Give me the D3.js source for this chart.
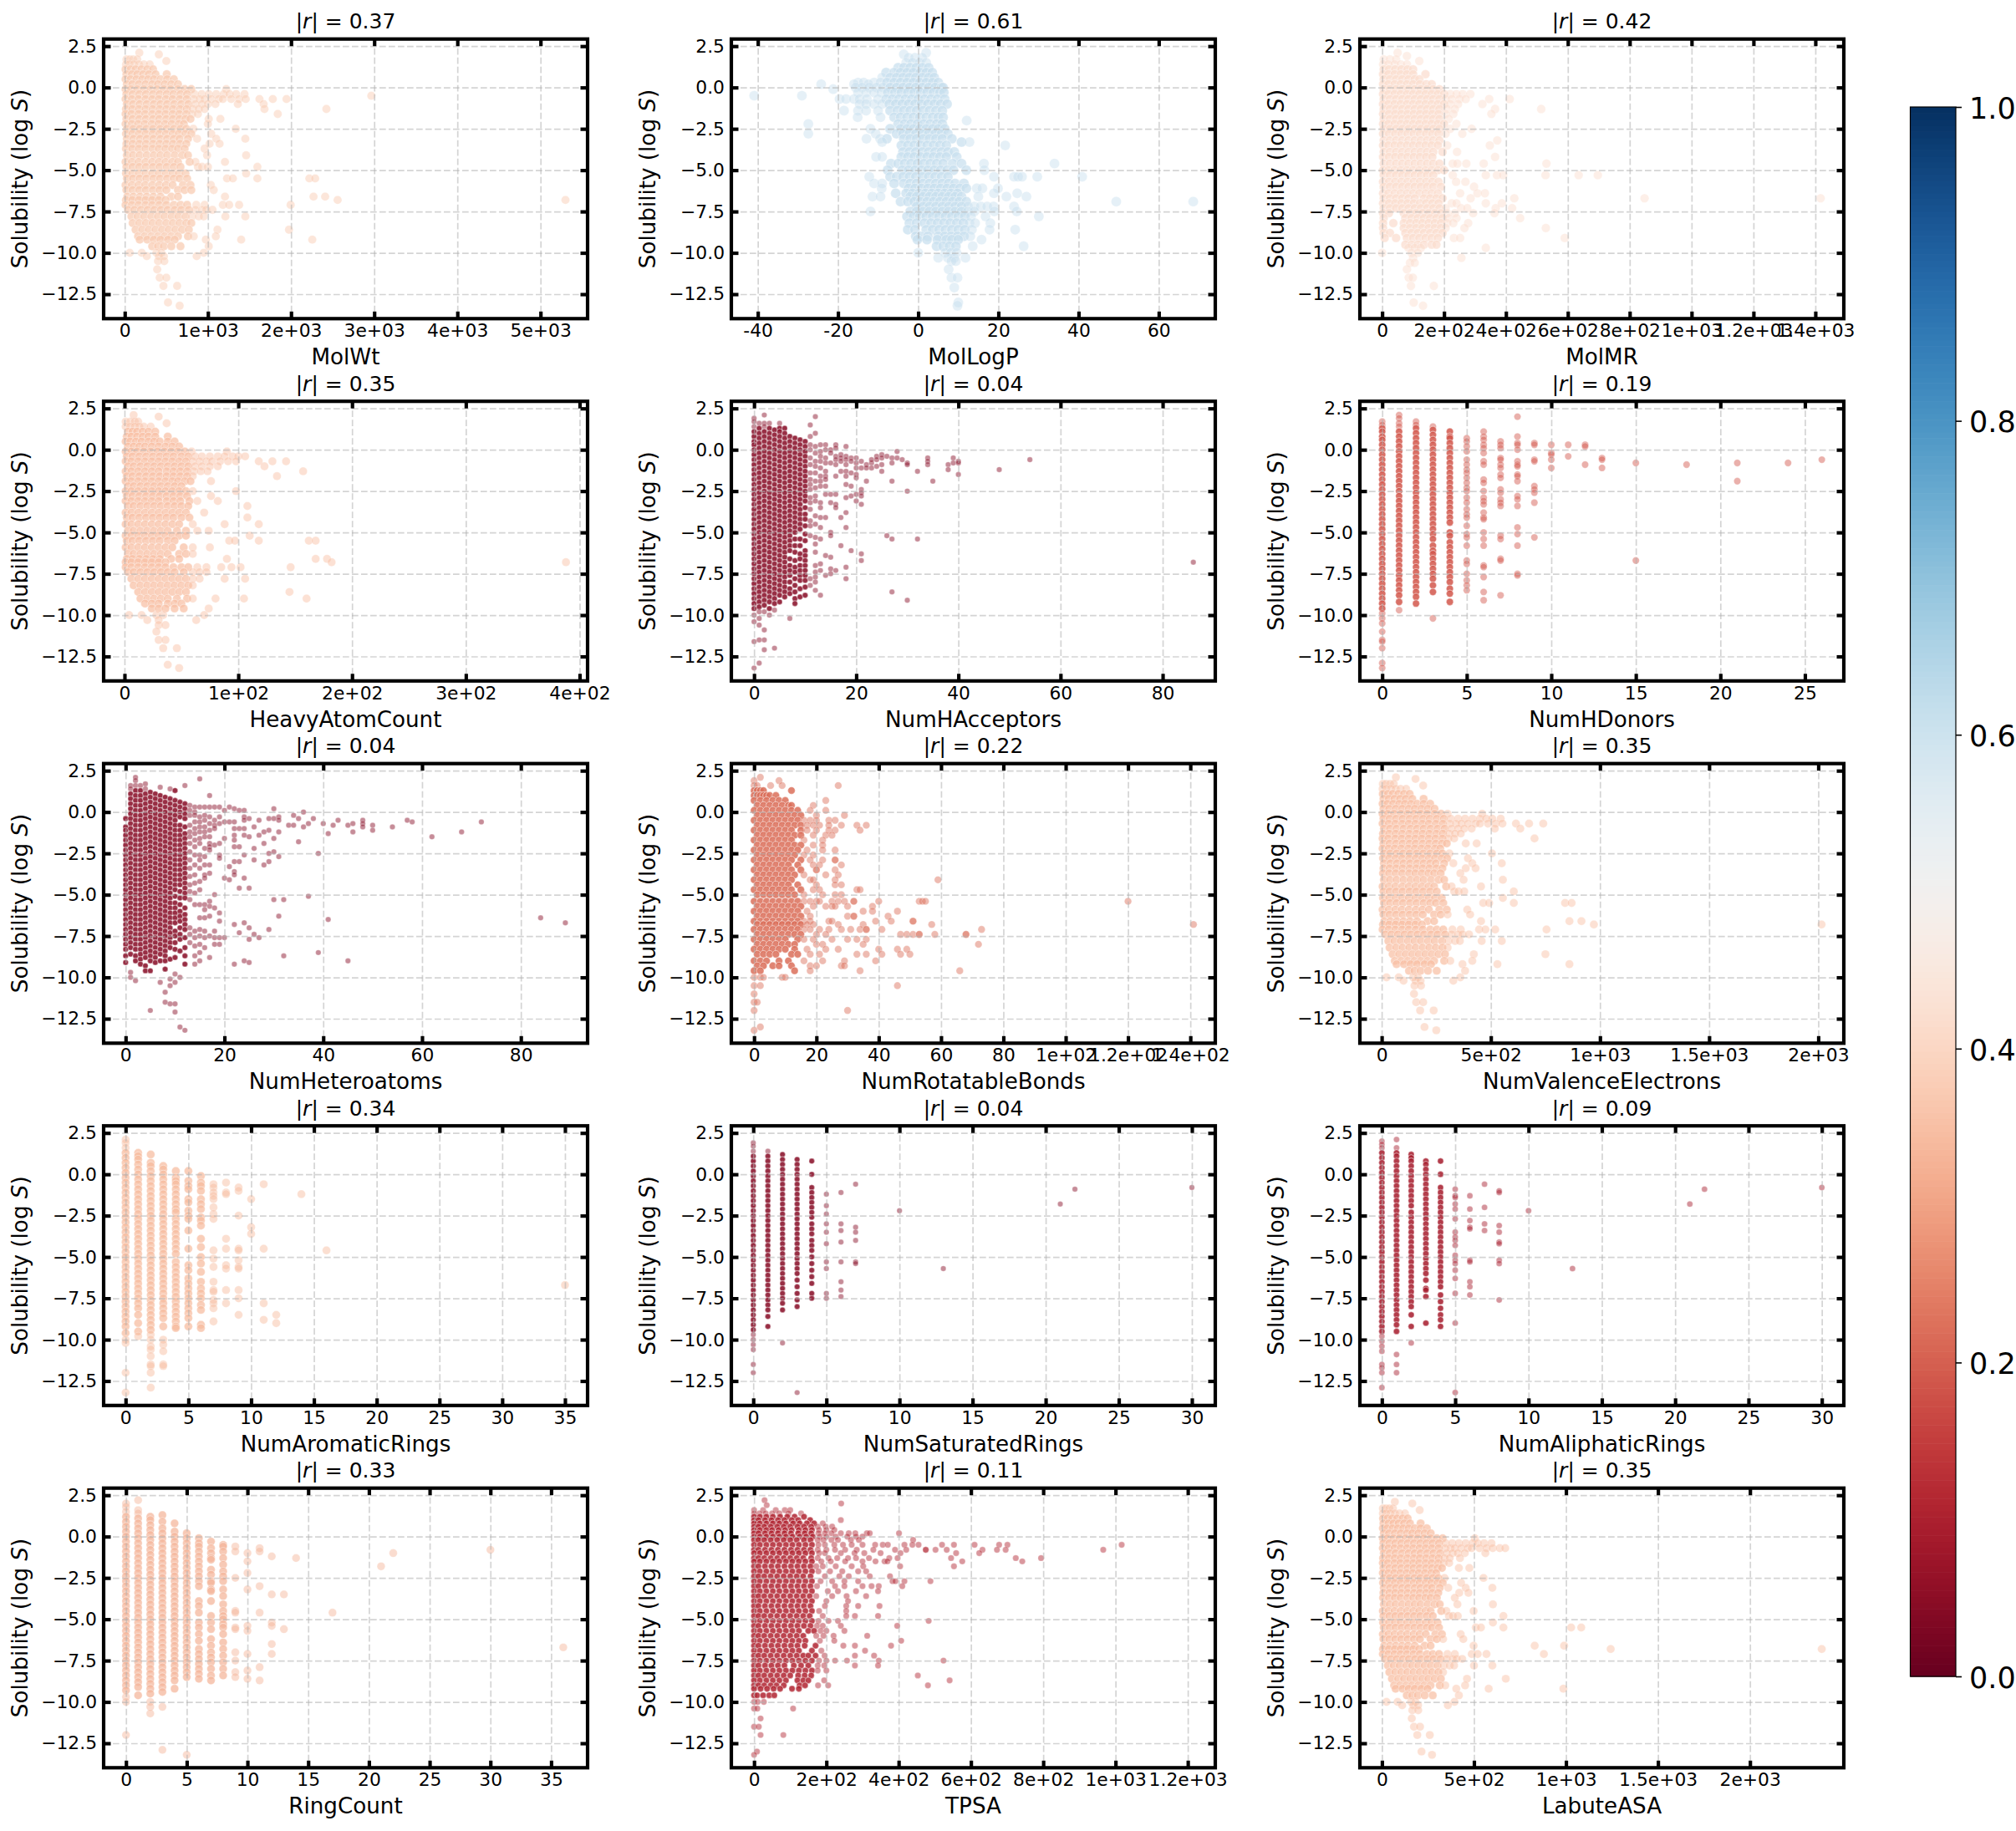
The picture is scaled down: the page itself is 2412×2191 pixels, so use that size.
<!DOCTYPE html>
<html><head><meta charset="utf-8">
<script src="https://cdn.jsdelivr.net/npm/d3@7"></script>
<style>body{margin:0;background:#fff}text{font-family:"DejaVu Sans";fill:#000}</style>
</head><body><svg id="fig" width="2412" height="2191"></svg>
<script>
// Solubility (log S, stored in tenths) against fifteen molecular descriptors.
// "Rows" entries are [logS*10, x, x, ...]; "Cols" entries are [x, logS*10, logS*10, ...].
const names=["MolWt","MolLogP","MolMR","HeavyAtomCount","NumHAcceptors","NumHDonors","NumHeteroatoms","NumRotatableBonds","NumValenceElectrons","NumAromaticRings","NumSaturatedRings","NumAliphaticRings","RingCount","TPSA","LabuteASA"];
const absR=[0.37,0.61,0.42,0.35,0.04,0.19,0.04,0.22,0.35,0.34,0.04,0.09,0.33,0.11,0.35];
const xLimits=[[-254,5566],[-46.6,74.1],[-72,1492],[-18.35,407],[-4.45,90.3],[-1.32,27.3],[-4.45,93.5],[-7.3,148],[-100,2117],[-1.75,36.8],[-1.5,31.6],[-1.5,31.5],[-1.84,38],[-62.9,1276],[-120,2510]];
const xTicks=[[0,1000,2000,3000,4000,5000],[-40,-20,0,20,40,60],[0,200,400,600,800,1000,1200,1400],[0,100,200,300,400],[0,20,40,60,80],[0,5,10,15,20,25],[0,20,40,60,80],[0,20,40,60,80,100,120,140],[0,500,1000,1500,2000],[0,5,10,15,20,25,30,35],[0,5,10,15,20,25,30],[0,5,10,15,20,25,30],[0,5,10,15,20,25,30,35],[0,200,400,600,800,1000,1200],[0,500,1000,1500,2000]];
const xTickLabels=[["0","1e+03","2e+03","3e+03","4e+03","5e+03"],["-40","-20","0","20","40","60"],["0","2e+02","4e+02","6e+02","8e+02","1e+03","1.2e+03","1.4e+03"],["0","1e+02","2e+02","3e+02","4e+02"],["0","20","40","60","80"],["0","5","10","15","20","25"],["0","20","40","60","80"],["0","20","40","60","80","1e+02","1.2e+02","1.4e+02"],["0","5e+02","1e+03","1.5e+03","2e+03"],["0","5","10","15","20","25","30","35"],["0","5","10","15","20","25","30"],["0","5","10","15","20","25","30"],["0","5","10","15","20","25","30","35"],["0","2e+02","4e+02","6e+02","8e+02","1e+03","1.2e+03"],["0","5e+02","1e+03","1.5e+03","2e+03"]];
const yTicks=[2.5,0,-2.5,-5,-7.5,-10,-12.5];
// Descriptor span of each panel's crowded core, and how many molecules pile up per listed reading there
const coreSpan=[[0,800],[-8,12],[0,200],[0,58],[0,10],[0,4],[0,12],[0,15],[0,300],[0,6],[0,4],[0,4],[0,8],[0,170],[0,330]];
const coreOverlap=[2,2,2,2,3,3,3,3,2,2,3,3,2,3,2];

const molWtRows=[[21,175],[20,410],[17,20,60,100,150],[16,500],[14,15,55,110,170,230,300],[11,10,70,130,200,270,340],[8,20,85,150,220,290,370,505],[5,10,70,140,210,280,350,430,510,590],[2,25,90,170,250,330,400,480,560,640],[-1,10,75,150,230,310,390,470,550,640,720,800,1220],[-4,20,95,175,255,340,420,505,585,670,750,840,925,1010,1100,1190,1260,1340,1440],[-5,2965],[-7,10,85,165,250,330,410,495,575,660,745,830,900,960,1040,1130,1180,1280,1375,1455,1620,1780,1945],[-10,25,100,180,265,350,430,510,595,680,765,850,930,1000,1090,1360,1670],[-13,15,90,170,250,335,420,500,580,665,745,820,890,960,1680,2425],[-16,10,80,165,245,330,410,490,575,655,740,810,880,1840],[-19,20,95,175,255,340,415,500,580,660,730,790,1010,1150],[-22,10,85,160,240,325,405,485,565,650,710,1000],[-25,25,100,180,260,340,425,505,590,670,740,825,1335],[-28,15,90,170,250,335,415,495,575,650,730,800,1040],[-31,25,105,185,265,345,430,510,590,660,760,870,1100,1450],[-34,20,95,175,255,340,420,500,580,665,740,1020,1140],[-37,15,90,170,250,335,410,490,570,640,720,960],[-41,25,100,180,265,350,430,510,600,690,760,990,1460],[-45,10,85,165,250,330,410,490,570,640,780,850,1205],[-48,20,95,175,255,340,420,505,590,670,880,930,1000,1595],[-52,15,90,170,250,330,410,495,575,650,730,1460],[-55,25,100,180,260,345,425,510,590,660,750,1230,1300,1595,2220,2290],[-59,10,85,165,245,330,415,495,575,700,790,1035],[-62,20,95,175,255,340,420,500,640,720,800,1070],[-66,30,105,185,265,345,430,560,640,1205,2270,2410],[-68,15,90,170,250,330,410,490,2560,5300],[-71,10,85,165,250,330,415,500,590,670,750,860,960,1180,1255,1375,1995],[-74,40,115,195,275,355,435,515,600,680,770,850,930,980,1055],[-78,80,155,235,320,400,480,565,645,730,810,890,950,1210,1450],[-82,95,175,255,335,415,500,580,660,740,800],[-86,130,210,290,370,450,530,610,690,770,1115,1975],[-90,160,240,320,400,480,560,640,760,830,1095],[-92,180,270,350,430,520,600,975,1400,2255],[-96,330,400,470,560,670,1010],[-100,60,205,380,440,950],[-102,265,410,470,865],[-105,400,475],[-110,390],[-115,420,500],[-120,465,630],[-130,520],[-132,660]];
const molLogPRows=[[21,2],[20,-3.6],[18,-2.4,-.8,1],[15,-3,-1.4,.4,2],[12,-5,-3.6,-2,-.5,1,2.6],[9,-8,-6,-4.4,-2.8,-1.2,.5,2,3.5],[6,-9,-7,-5.4,-3.8,-2.2,-.6,1,2.6,4],[3,-15,-13.6,-11,-9.4,-7.8,-6,-4.4,-2.8,-1.2,.4,2,3.6,5],[2,-24.2,-16,-12.4],[0,-15.6,-14,-12.2,-10.4,-8.8,-7,-5.4,-3.8,-2.2,-.6,1,2.6,4.2,5.8,6.2],[-1,-21.2],[-3,-15,-13,-11,-9.2,-7.6,-5.8,-4.2,-2.6,-1,.6,2.2,3.8,5.4,6.4],[-5,-40.9,-29],[-7,-19.6,-18,-16,-14.6,-12.8,-10,-8,-6.4,-4.8,-3.2,-1.6,0,1.6,3.2,4.8,6.6],[-10,-14.6,-13,-11,-9,-7.2,-5.6,-4,-2.4,-.8,.8,2.4,4,5.6,7.2],[-14,-18.5,-15,-13,-10,-7,-5.2,-3.6,-2,-.4,1.2,2.8,4.4,6],[-18,-15.1,-9.4,-6,-4.4,-2.8,-1.2,.4,2,3.6,5,6.2],[-20,12.1],[-22,-27.4,-5,-3.4,-1.8,-.2,1.4,3,4.6,6],[-25,-11.9,-7,-4.4,-2.8,-1.2,.4,2,3.6,5,6.6],[-28,-27.4,-10.6,-5.4,-3.8,-2.2,-.6,1,2.6,4.2,5.8,7.4],[-31,-12.9,-9.5,-7.8,-3.6,-2,-.4,1.2,2.8,4.4,6,8.4],[-33,-9,10.8,12.8],[-35,-4.2,-2.6,-1,.6,2.2,3.8,5.4,7,21.7],[-39,-3.8,-2.2,-.6,1,2.6,4.2,5.8,7.4,9],[-42,-10.5,-9,-4.2,-2.6,-1,.6,2.2,3.8,5.4,7,9.6],[-46,-6.8,-5,-3.4,-1.8,-.2,1.4,3,4.6,6.2,8.6,10.8,16.4,34],[-50,-7.6,-4,-2.4,-.8,.8,2.4,4,5.6,7.2,8.8,12,16.5],[-54,-12.2,-7,-5.4,-3.8,-2.2,-.6,1,2.6,4.2,5.8,7.4,18.9,23.9,24.9,25.9,29.7,40.9],[-58,-11,-9,-6,-3.6,-2,-.4,1.2,2.8,4.4,6,7.6,9.2,11.4],[-61,-9.1,-2.4,-.8,.8,2.4,4,5.6,7.2,8.8,10.4,12,14.6,16,19.9],[-64,-5.6,-3,-1.4,.2,1.8,3.4,5,6.6,8.2,9.8,18.9,24.7],[-66,-11.4,-9.4,-2,-.4,1.2,2.8,4.4,6,7.6,9.2,10.8,15,22,27],[-69,-4.4,-2.6,-1,.6,2.2,3.8,5.4,7,8.6,10.2,12,49.4,68.6],[-72,-.4,1.2,2.8,4.4,6,7.6,9.2,10.8,12.4,14,15.6,17.2,18.8,23.9],[-75,-11.9,-2,-.4,1.2,2.8,4.4,6,7.6,9.2,10.8,12.4,14,19,24.6],[-78,-2.8,-1.2,.4,2,3.6,5.2,6.8,8.4,10,11.6,13.2,16.8,30.1],[-82,-2.2,-.4,1.6,3.2,4.8,6.4,8,9.6,11.2,12.8,14.2,18],[-86,-2.6,-.8,2,3.6,5.2,6.8,8.4,10,11.6,13.4,17.8,24.2],[-90,-.6,.6,2.4,5,6.6,8.2,9.8,11.4,13],[-92,-.2,2.2,4.8,7,8.4,10,15.8],[-96,4.6,6.2,7.8,9.4,13.6,26.3],[-100,0,6.8,8.2,9.6],[-103,5,7.4,9,11.8],[-105,8.3,9.4],[-110,7.6],[-115,8.3,9.8],[-121,9],[-130,10],[-132,9.8]];
const molMRRows=[[21,50],[19,80],[17,5,25,45],[16,120],[14,3,20,40,60,80],[11,5,22,42,62,82,100],[8,3,20,40,60,80,100,140],[5,5,25,45,65,85,105,120],[2,3,20,40,60,80,100,122,142,160],[-1,5,25,45,65,85,105,125,145,165,185],[-4,3,20,40,60,80,100,120,140,160,180,200,220,240,260,285],[-7,5,25,45,65,85,105,125,145,165,185,205,225,250,270,346,412],[-10,3,20,40,60,80,100,120,140,160,180,200,220,245,324],[-13,5,25,45,65,85,105,125,145,165,185,210,235,365,514],[-16,3,22,42,62,82,102,122,142,162,182,205,230,353],[-19,5,25,45,65,85,105,125,145,165,185,215],[-22,3,20,40,60,80,100,120,140,160,180,200,240],[-25,5,25,45,65,85,105,125,145,165,185,220,289],[-28,3,22,42,62,82,102,122,142,162,182,205,259],[-32,5,25,45,65,85,105,125,145,165,185,372],[-35,3,20,40,60,80,100,120,140,160,180,210,348],[-39,5,25,45,65,85,105,125,145,165,195,242],[-42,3,22,42,62,82,102,122,142,162,365],[-46,5,25,45,65,85,105,125,145,165,185,228,243,272,328,531],[-50,3,20,40,60,80,100,120,140,160,180,200],[-53,5,25,45,65,85,105,125,145,165,228,335,371,391,528,635,697],[-57,3,22,42,62,82,102,122,142,162,182,239,269],[-60,5,25,45,65,85,105,125,145,165,190,297],[-64,3,20,40,60,80,100,120,140,160,180,252,308,332],[-67,5,25,45,65,85,105,135,155,175,195,286,427,848,1417],[-70,3,22,42,62,82,102,122,142,162,182,225,240,335,387],[-73,5,25,45,65,85,105,125,145,165,185,205,255,275,367,420],[-76,3,22,70,90,110,130,150,170,190,210,235,294,363],[-79,5,75,95,115,135,155,175,195,215,240,446],[-82,3,36,70,90,110,130,150,170,190,210,230,278],[-85,3,70,90,110,130,150,170,190,205,266,529],[-88,5,25,75,95,115,135,155,175,195],[-91,8,45,80,100,120,140,160,180,232,252,590],[-95,75,95,115,135,160,175],[-97,85,105,125,335],[-100,0,95,115],[-103,100,256],[-106,90,105],[-110,80],[-115,86,99],[-120,93,167],[-130,102],[-132,132]];
const heavyRows=[[21,8],[20,30],[17,1,5,9,12],[16,37],[14,1,5,9,13,17,23],[11,3,7,11,16,21,27],[8,2,6,11,16,21,27,38],[5,1,5,10,15,21,26,31,38,44],[2,3,8,13,18,24,30,36,42,48],[-1,1,6,11,17,23,29,35,41,47,53,59,90],[-4,2,7,13,19,25,31,37,43,50,56,62,68,75,82,88,95,100,106],[-7,1,6,12,18,24,30,36,42,48,54,60,66,72,77,84,91,98,118,130,142],[-10,3,8,14,20,26,32,38,44,50,56,62,68,75,82,123],[-13,1,6,12,18,24,30,37,43,49,55,61,67,73,157],[-16,2,7,13,19,25,31,37,43,49,55,60,134],[-19,1,6,12,18,24,30,36,42,47,53,58,76],[-22,3,8,14,20,26,32,38,44,50],[-25,1,6,12,18,24,30,36,42,48,54,60,98],[-28,2,7,13,19,25,31,37,43,49,55,76],[-31,1,6,12,18,24,30,37,43,49,57,64,82],[-34,3,8,14,20,26,32,38,44,50,56,108],[-38,1,6,12,18,24,30,36,42,48,54,70],[-41,2,7,13,19,25,31,37,43,50,57,108],[-45,1,6,12,18,24,30,36,42,48,60,88,118],[-49,3,8,14,20,26,32,38,46,54,64,74],[-52,1,6,12,18,24,30,36,42,48,54,110],[-55,2,7,13,19,25,31,38,44,92,97,118,162,168],[-59,1,6,12,18,24,30,36,42,52,60,75],[-63,3,8,14,20,26,32,38,48,54,60],[-66,2,7,13,19,25,31,41,48,90,168,178],[-68,1,6,12,18,24,30,36,182,388],[-71,1,6,12,18,24,30,36,43,50,56,64,72,85,94,102,146],[-74,3,8,14,20,26,32,38,44,52,60,66,72],[-78,6,12,18,24,30,36,42,48,54,60,66,88,106],[-82,8,14,20,26,32,38,44,50,56,60],[-86,12,18,24,30,36,42,48,54,145],[-90,14,20,26,32,38,46,55,60,80,105,160],[-93,18,24,30,38,44,50],[-96,24,30,36,44,52,74],[-100,4,15,28,34,70],[-103,20,30,63],[-106,30,36],[-110,28],[-115,30,36],[-120,34,46],[-130,38],[-132,48]];
const hAcceptorCols=[[0,19,17,14,11,8,5,3,0,-3,-6,-9,-12,-15,-18,-21,-24,-27,-30,-33,-36,-39,-42,-45,-48,-51,-54,-57,-60,-63,-66,-69,-72,-75,-78,-81,-84,-87,-90,-93,-96,-100,-104,-116,-132],[1,16,13,10,7,4,1,-2,-5,-8,-11,-14,-17,-20,-23,-26,-29,-32,-35,-38,-41,-44,-47,-50,-53,-56,-59,-62,-65,-68,-71,-74,-77,-80,-83,-86,-89,-92,-95,-98,-102,-106,-115,-129],[2,21,16,14,11,8,5,2,-1,-4,-7,-10,-13,-16,-19,-22,-25,-28,-31,-34,-37,-40,-43,-46,-49,-52,-55,-58,-61,-64,-67,-70,-73,-76,-79,-82,-85,-88,-91,-94,-98,-109,-115,-121],[3,16,13,10,7,4,1,-2,-5,-8,-11,-14,-17,-20,-23,-26,-29,-32,-35,-38,-41,-44,-47,-50,-53,-56,-59,-62,-65,-68,-71,-74,-77,-80,-83,-86,-89,-92,-96,-100],[4,12,9,6,3,0,-3,-6,-9,-12,-15,-18,-21,-24,-27,-30,-33,-36,-39,-42,-45,-48,-51,-54,-57,-60,-63,-66,-69,-72,-75,-78,-81,-84,-87,-90,-93,-97,-120],[5,16,13,11,8,5,2,-1,-4,-7,-10,-13,-16,-19,-22,-25,-28,-31,-34,-37,-40,-43,-46,-49,-52,-55,-58,-61,-64,-67,-70,-73,-76,-79,-82,-85,-88,-92],[6,13,10,7,4,1,-2,-5,-8,-11,-14,-17,-20,-23,-26,-29,-32,-35,-38,-41,-44,-47,-50,-53,-56,-59,-62,-65,-68,-71,-74,-77,-80,-83,-86,-89],[7,8,5,2,-1,-4,-7,-10,-13,-16,-19,-22,-25,-28,-31,-34,-37,-40,-43,-46,-49,-52,-55,-58,-61,-66,-70,-73,-76,-80,-84,-87,-102],[8,7,4,1,-2,-5,-8,-11,-14,-17,-20,-23,-26,-29,-32,-35,-38,-41,-44,-47,-50,-54,-58,-62,-67,-71,-74,-78,-82,-86,-90,-93],[9,6,3,0,-3,-6,-9,-12,-15,-18,-21,-24,-27,-30,-33,-36,-39,-42,-45,-48,-54,-58,-63,-66,-70,-73,-76,-79,-84,-89],[10,5,2,-1,-4,-7,-10,-13,-16,-19,-22,-25,-28,-31,-35,-39,-42,-46,-51,-55,-61,-64,-67,-70,-73,-76,-79,-83,-88],[11,15,8,3,0,-5,-9,-14,-18,-21,-24,-29,-32,-36,-43,-46,-52,-78,-82],[12,20,10,2,-2,-7,-10,-14,-19,-23,-28,-31,-40,-45,-53,-57,-62,-70,-74,-77,-80,-85],[13,3,-1,-4,-7,-11,-16,-19,-22,-32,-35,-41,-47,-54,-69,-73,-88],[14,3,0,-5,-8,-13,-16,-18,-22,-27,-41,-64,-76],[15,0,-2,-8,-27,-32,-50,-52,-65,-72,-75],[16,3,1,-4,-6,-9,-16,-27,-33,-35,-73],[17,-3,-5,-7,-13,-41,-58],[18,2,-4,-6,-9,-13,-16,-21,-29,-38,-47,-71,-78],[19,-5,-7,-14,-22,-28,-61],[20,-5,-8,-11,-15,-17,-27,-31],[21,-7,-11,-24,-26,-28,-33,-63,-67],[22,-9,-11,-19],[23,-8,-11,-6],[24,-4,-6,-10],[25,-3,-5,-9,-13],[26,-4,-52],[27,-5,-8,-19,-54,-86],[28,-1,-5],[29,-6],[30,-8,-9,-25,-91],[32,-13,-54],[34,-5,-7,-9],[35,-19],[38,-9,-12],[39,-5,-8],[40,-7,-8,-15],[48,-12],[54,-6],[86,-68]];
const hDonorCols=[[0,17,15,13,11,8,6,3,0,-3,-6,-9,-12,-15,-18,-21,-24,-27,-30,-33,-36,-39,-42,-45,-48,-51,-54,-57,-60,-63,-66,-69,-72,-75,-78,-81,-84,-87,-90,-93,-96,-99,-102,-105,-110,-115,-116,-120,-129,-132],[1,21,19,16,14,11,8,5,2,-1,-4,-7,-10,-13,-16,-19,-22,-25,-28,-31,-34,-37,-40,-43,-46,-49,-52,-55,-58,-61,-64,-67,-70,-73,-76,-79,-82,-85,-88,-92,-97],[2,17,15,13,10,7,4,1,-2,-5,-8,-11,-14,-17,-20,-23,-26,-29,-32,-35,-38,-41,-44,-47,-50,-53,-56,-59,-62,-65,-68,-71,-74,-77,-80,-83,-86,-89,-93],[3,14,12,9,6,3,0,-3,-6,-9,-12,-15,-18,-21,-24,-27,-30,-33,-36,-39,-42,-45,-48,-51,-54,-58,-61,-63,-66,-69,-72,-75,-78,-82,-86,-102],[4,11,8,7,4,1,-2,-5,-8,-11,-14,-17,-20,-23,-26,-29,-32,-35,-38,-41,-44,-50,-52,-56,-59,-62,-65,-68,-71,-74,-77,-80,-84,-87,-92],[5,7,5,2,-1,-6,-9,-12,-14,-17,-20,-23,-25,-29,-32,-36,-39,-41,-46,-51,-53,-58,-67,-69,-75,-79,-82,-85],[6,11,8,6,3,1,-2,-7,-9,-18,-20,-25,-29,-31,-33,-38,-41,-42,-50,-54,-58,-70,-71,-77,-86,-91],[7,5,3,1,-5,-6,-9,-11,-15,-17,-24,-26,-30,-32,-34,-52,-54,-66,-67,-88],[8,20,8,4,3,0,-7,-9,-10,-15,-16,-19,-28,-30,-34,-47,-51,-58,-75,-76],[9,4,3,-6,-7,-22,-24,-26,-32,-53],[10,3,-2,-3,-6,-11],[11,3,-4],[12,3,2,-9],[13,-5,-6,-11],[15,-8,-67],[18,-9],[21,-8,-19],[24,-8],[26,-6]];
const heteroCols=[[0,-4,-9,-11,-14,-17,-20,-23,-26,-29,-32,-35,-38,-41,-44,-47,-50,-53,-56,-59,-62,-65,-68,-71,-74,-77,-80,-83,-87,-91],[1,16,14,11,8,5,2,-1,-4,-7,-10,-13,-16,-19,-22,-25,-28,-31,-34,-37,-40,-43,-46,-49,-52,-55,-58,-61,-64,-67,-70,-73,-76,-79,-82,-86,-97,-100],[2,21,19,16,13,10,7,4,1,-2,-5,-8,-11,-14,-17,-20,-23,-26,-29,-32,-35,-38,-41,-44,-47,-50,-53,-56,-59,-62,-65,-68,-71,-74,-77,-80,-83,-87,-90,-102],[3,16,13,10,7,4,1,-2,-5,-8,-11,-14,-17,-20,-23,-26,-29,-32,-35,-38,-41,-44,-47,-50,-53,-56,-59,-62,-65,-68,-71,-74,-77,-80,-83,-86,-89,-92],[4,17,14,11,8,5,2,-1,-4,-7,-10,-13,-16,-19,-22,-25,-28,-31,-34,-37,-40,-43,-46,-49,-52,-55,-58,-61,-64,-67,-70,-73,-76,-79,-82,-85,-88,-93,-96],[5,12,9,6,3,0,-3,-6,-9,-12,-15,-18,-21,-24,-27,-30,-33,-36,-39,-42,-45,-48,-51,-54,-57,-60,-63,-66,-69,-72,-75,-78,-81,-84,-87,-90,-96,-120],[6,11,8,5,2,-1,-4,-7,-10,-13,-16,-19,-22,-25,-28,-31,-34,-37,-40,-43,-46,-49,-52,-55,-58,-61,-64,-67,-70,-73,-76,-79,-82,-85,-88,-91],[7,15,10,7,4,1,-2,-5,-8,-11,-14,-17,-20,-23,-26,-29,-32,-35,-38,-41,-44,-47,-50,-53,-56,-59,-62,-65,-68,-71,-74,-77,-80,-83,-86,-90,-103],[8,9,6,3,0,-3,-6,-9,-12,-15,-18,-21,-24,-27,-30,-33,-36,-39,-42,-45,-48,-51,-54,-57,-60,-63,-66,-69,-72,-75,-78,-81,-84,-87,-90,-95,-109,-115],[9,14,8,5,2,-1,-4,-7,-10,-13,-16,-19,-22,-25,-28,-31,-34,-37,-40,-43,-46,-49,-52,-55,-58,-61,-64,-67,-70,-73,-76,-79,-82,-89,-101,-105,-116],[10,13,7,4,1,-2,-5,-8,-11,-14,-17,-20,-23,-26,-29,-32,-35,-38,-41,-44,-47,-51,-55,-58,-61,-64,-67,-72,-75,-79,-83,-88,-98,-103,-116,-121],[11,6,3,0,-3,-8,-11,-14,-17,-20,-23,-26,-29,-32,-35,-38,-41,-44,-48,-52,-56,-60,-63,-66,-70,-74,-77,-84,-100,-130],[12,16,5,2,-1,-4,-9,-13,-16,-19,-22,-25,-28,-31,-34,-37,-40,-43,-46,-49,-52,-58,-62,-65,-68,-71,-76,-82,-87,-92,-132],[13,4,1,-2,-8,-12,-15,-19,-24,-29,-34,-39,-44,-48,-53,-70,-74,-79],[14,3,0,-2,-6,-10,-13,-17,-21,-26,-32,-38,-43,-49,-56,-72,-76,-81,-87,-92],[15,20,3,-3,-6,-9,-12,-16,-19,-26,-29,-34,-42,-47,-56,-64,-71,-75,-80,-85,-90],[16,3,-2,-5,-9,-12,-15,-22,-27,-32,-38,-40,-56,-59,-64,-72,-76,-82],[17,10,3,-3,-7,-11,-15,-19,-21,-23,-32,-37,-54,-57,-63,-75,-88],[18,3,-5,-8,-10,-20,-50,-58,-72,-76,-80],[19,3,-3,-7,-19,-26,-28,-61,-66,-76,-80],[20,1,-6,-16,-40,-76],[21,3,-6,-33,-41],[22,2,-6,-10,-14,-17,-21,-30,-36,-38,-68,-92],[23,1,-10,-21,-30,-46,-73],[24,1,-3,-5,-10,-14,-26,-40,-67,-90],[25,-4,-15,-46,-70,-77,-91],[26,-9,-22,-29,-74],[27,-5,-14,-76],[28,-12,-19,-32],[29,-4,-11,-25,-30,-71],[30,2,-4,-16,-24,-53],[31,-3,-5,-12,-27,-63],[32,-53,-87],[33,-8],[34,-2,-8],[35,-4,-18],[36,0,-9],[37,-7,-51],[38,-4],[39,-25,-85],[40,-7],[41,-13,-65],[42,-8],[43,-5],[45,-8,-90],[46,-7,-12],[48,-5,-7,-9],[50,-8,-11],[54,-9],[57,-5],[58,-6],[62,-15],[68,-12],[72,-6],[84,-64],[89,-67]];
const rotatableRows=[[21,2],[19,0,8],[16,0,1,5.3,9,27],[13,0,1,2,3,12],[10,0,1,2,3,4,5,7],[7,0,2,4,6,8,10,23],[4,1,3,5,7,9,11,12,19],[1,0,2,4,6,8,10,12,14,18,23],[-2,1,3,5,7,9,11,13,15,20,29],[-5,0,2,4,6,8,10,12,14,16,18,20,24,26],[-8,1,3,5,7,9,11,13,15,17,19,21,24,28,33,36],[-11,0,2,4,6,8,10,12,15,17,20,24,26,34],[-14,1,3,5,7,9,11,13,15,19,23,25],[-17,0,2,4,6,8,10,12,16,22],[-20,1,3,5,7,9,11,13,15,19,22],[-23,0,2,4,6,8,10,12,14,17,22,26],[-26,1,3,5,7,9,11,13,16,19],[-29,0,2,4,6,8,10,12,15,18,22,26,26],[-32,1,3,5,7,9,11,14,19,21,28],[-35,0,2,4,6,8,10,12,15,20,20,26],[-38,1,3,5,7,9,11,13,16,23,27],[-41,0,2,4,6,8,10,12,18,19,26,59],[-44,1,3,5,7,9,11,14,20,26,28],[-47,0,2,4,6,8,10,12,15,19,21,33,34],[-50,1,3,5,7,9,11,13,16,22,26,28],[-54,0,2,4,6,8,10,12,14,16,18,20,21,25,27,29,32,32,40,53,54,55,120],[-57,1,3,5,7,9,11,13,15,19,23,25,26,30,38],[-60,0,2,4,6,8,10,12,14,17,38,35,46],[-63,1,3,5,7,9,11,13,15,18,30,32,32,43],[-66,0,2,4,6,8,10,12,14,16,18,24,25,39,44,51,51],[-68,1,3,5,7,9,11,13,15,17,19,27,35,57,141],[-71,0,2,4,6,8,10,12,14,16,18,21,24,28,31,34,36,36,41,73],[-74,1,3,5,7,9,11,13,15,20,23,47,49,51,53,53,58,68,68],[-77,0,2,4,6,8,10,14,16,19,25,30,33,36],[-80,1,3,5,7,9,11,13,20,22,35,72],[-83,0,2,4,6,8,10,13,17,23,27,40,46,49],[-86,1,3,5,7,12,14,18,21,33,36,41,47,50],[-90,0,2,4,8,11,16,22,29,39],[-93,1,3,6,8,12,18,20,28,29],[-96,0,2,13,18,34,66],[-100,0,2,3,9,10],[-105,0,2,46],[-110,0],[-115,0,1],[-120,0,30],[-130,2],[-132,0]];
const valenceRows=[[21,65],[20,155],[17,5,20,38,55],[16,190],[14,4,20,42,64,86,112],[11,5,28,50,76,102,128],[8,8,32,58,84,110,140,192],[5,4,26,52,80,106,134,162,192,222],[2,8,34,64,94,124,152,182,212,242],[-1,4,28,56,88,118,148,178,208,242,272,302,460],[-4,8,36,66,96,128,158,190,220,252,284,316,350,382,416,450,478,506,545],[-7,4,32,62,94,124,154,186,216,248,280,312,340,365,395,430,450,487,522,553,615,675,740],[-10,10,38,68,100,132,162,192,224,256,288,320,350,378,412,518,635],[-13,6,34,64,94,126,158,188,218,250,280,310,336,362],[-16,4,30,62,92,124,154,184,216,246,278,305,332,700],[-19,8,36,66,96,128,156,188,218,248,276,298,385,435],[-22,4,32,60,90,122,152,182,212,244,268],[-25,10,38,68,98,128,160,190,222,252,278,310,505],[-28,6,34,64,94,126,156,186,216,244,275,300,395],[-31,10,40,70,100,130,162,192,222,248,286,328,415,550],[-34,8,36,66,96,128,158,188,218,250,278,385,430],[-37,6,34,64,94,126,154,184,214,240,270,360],[-41,10,38,68,100,132,162,192,226,260,286,375,555],[-45,4,32,62,94,124,154,184,214,240,295,320,455],[-48,8,36,66,96,128,158,190,222,252,332,352,378,605],[-52,6,34,64,94,124,154,186,216,244,275,555],[-55,10,38,68,98,130,160,192,222,248,282,465,492,605,840,870],[-59,4,32,62,92,124,156,186,216,264,298,392],[-62,8,36,66,96,128,158,188,240,270,302,405],[-66,12,40,70,100,130,162,210,240,455,860,915],[-68,6,34,64,94,124,154,184,972,2015],[-71,4,32,62,94,124,156,188,222,252,282,324,362,446,475,520,755],[-74,16,44,74,104,134,164,194,226,256,290,320,350,370,400],[-78,30,58,88,120,150,180,212,242,276,306,336,358,458,550],[-82,36,66,96,126,156,188,218,248,278,302],[-86,50,80,110,140,170,200,230,260,290,422,750],[-90,60,90,120,150,180,210,240,286,314,415],[-92,68,102,132,162,196,226,370,530,860],[-96,125,150,178,212,252,382],[-100,22,78,144,166,360],[-102,100,155,178,328],[-105,150,180],[-110,148],[-115,158,190],[-120,176,238],[-130,196],[-132,250]];
const aromaticCols=[[0,21,19,16,13,10,7,4,1,-2,-5,-8,-11,-14,-17,-20,-23,-26,-29,-32,-35,-38,-41,-44,-47,-50,-53,-56,-59,-62,-65,-68,-71,-74,-77,-80,-83,-86,-89,-92,-96,-100,-102,-120,-132],[1,13,11,9,6,3,0,-3,-6,-9,-12,-15,-18,-21,-24,-27,-30,-33,-36,-39,-42,-45,-48,-51,-54,-57,-60,-63,-66,-69,-72,-75,-78,-81,-85,-90,-95,-98],[2,12,7,5,2,-1,-4,-7,-10,-13,-16,-19,-22,-25,-28,-31,-34,-37,-40,-43,-46,-49,-52,-55,-58,-61,-64,-67,-70,-73,-76,-79,-82,-85,-88,-91,-94,-97,-100,-104,-106,-110,-115,-116,-120,-129],[3,5,3,0,-3,-6,-9,-12,-15,-18,-21,-24,-27,-30,-33,-36,-39,-42,-45,-48,-51,-54,-57,-60,-63,-66,-69,-72,-75,-78,-81,-84,-87,-92,-100,-103,-107,-115,-116],[4,2,-2,-4,-6,-9,-12,-15,-18,-21,-23,-27,-30,-33,-36,-39,-42,-45,-48,-53,-56,-59,-62,-65,-68,-71,-74,-77,-80,-83,-86,-89,-92,-93],[5,2,-4,-7,-9,-15,-17,-22,-25,-27,-34,-45,-55,-58,-63,-66,-69,-72,-75,-78,-81,-84,-87,-92],[6,-1,-5,-7,-10,-15,-18,-21,-26,-28,-31,-39,-44,-50,-54,-59,-65,-69,-72,-75,-79,-82,-91,-93],[7,-6,-8,-11,-13,-15,-20,-24,-27,-46,-51,-56,-65,-70,-71,-76,-78,-81,-89],[8,-5,-11,-12,-39,-45,-55,-57,-70,-78],[9,-8,-10,-25,-45,-46,-52,-56,-57,-70,-75,-85],[10,-15,-32,-36],[11,-6,-45,-78,-88],[12,-85,-90],[14,-12],[16,-46],[35,-67]];
const saturatedCols=[[0,19,17,14,11,8,5,2,-1,-4,-7,-10,-13,-16,-19,-22,-25,-28,-31,-34,-37,-40,-43,-46,-49,-52,-55,-58,-61,-64,-67,-70,-73,-76,-79,-82,-85,-88,-91,-94,-97,-100,-103,-106,-115,-120],[1,14,11,8,5,2,-1,-4,-7,-10,-13,-16,-19,-22,-25,-28,-31,-34,-37,-40,-43,-46,-49,-52,-55,-58,-61,-64,-67,-70,-73,-76,-79,-82,-86,-92],[2,12,9,6,3,0,-3,-6,-9,-12,-15,-18,-21,-24,-27,-30,-33,-36,-39,-42,-45,-48,-51,-54,-57,-60,-63,-66,-69,-72,-75,-78,-82,-102],[3,9,6,3,0,-3,-6,-9,-12,-15,-18,-21,-24,-27,-30,-33,-36,-39,-42,-45,-48,-51,-54,-57,-60,-64,-68,-72,-76,-80,-132],[4,8,0,-8,-11,-14,-17,-20,-23,-26,-30,-33,-36,-40,-43,-46,-50,-54,-58,-62,-66,-72,-75],[5,-12,-19,-24,-30,-35,-42,-53,-57,-72,-75],[6,-11,-30,-34,-41,-53,-65,-70,-74],[7,-6,-32,-35,-40,-53,-54],[10,-22],[13,-57],[21,-18],[22,-9],[30,-8]];
const aliphaticCols=[[0,20,18,16,13,10,7,4,1,-2,-5,-8,-11,-14,-17,-20,-23,-26,-29,-32,-35,-38,-41,-44,-47,-50,-53,-56,-59,-62,-65,-68,-71,-74,-77,-80,-83,-86,-89,-92,-95,-98,-101,-104,-107,-115,-117,-120,-129],[1,21,16,13,11,8,5,2,-1,-4,-7,-10,-13,-16,-19,-22,-25,-28,-31,-34,-37,-40,-43,-46,-49,-52,-55,-58,-61,-64,-67,-70,-73,-76,-79,-82,-85,-88,-91,-95,-109,-115,-120],[2,12,10,8,5,2,-1,-4,-7,-10,-13,-16,-19,-23,-26,-29,-32,-35,-38,-41,-44,-47,-50,-53,-56,-59,-62,-65,-68,-71,-74,-77,-80,-85,-92,-102],[3,8,6,3,0,-3,-6,-9,-12,-15,-18,-21,-24,-27,-30,-33,-36,-39,-42,-45,-48,-51,-54,-57,-60,-64,-69,-70,-74,-90],[4,8,0,-8,-11,-14,-17,-20,-23,-26,-29,-32,-35,-38,-41,-44,-47,-50,-53,-56,-59,-62,-65,-68,-73,-77,-81,-85,-88,-92],[5,-9,-13,-14,-18,-21,-27,-35,-38,-40,-43,-49,-52,-54,-58,-63,-72,-90,-132],[6,-13,-21,-28,-32,-33,-52,-53,-65,-68,-73],[7,-6,-20,-30,-34],[8,-10,-11,-31,-35,-41,-42,-52,-54,-76],[10,-22],[13,-57],[21,-18],[22,-9],[30,-8]];
const ringCountCols=[[0,20,18,15,12,9,6,3,0,-3,-6,-9,-12,-15,-18,-21,-24,-27,-30,-33,-36,-39,-42,-45,-48,-51,-54,-57,-60,-63,-66,-69,-72,-75,-78,-81,-84,-87,-90,-93,-97,-100,-120],[1,22,16,14,11,8,5,2,-1,-4,-7,-10,-13,-16,-19,-22,-25,-28,-31,-34,-37,-40,-43,-46,-49,-52,-55,-58,-61,-64,-67,-70,-73,-76,-79,-82,-85,-88,-91,-96],[2,12,10,7,4,1,-2,-5,-8,-11,-14,-17,-20,-23,-26,-29,-32,-35,-38,-41,-44,-47,-50,-53,-56,-59,-62,-65,-68,-71,-74,-77,-80,-83,-86,-89,-92,-95,-100,-103,-107],[3,13,9,5,2,-1,-4,-7,-10,-13,-16,-19,-22,-25,-28,-31,-34,-37,-40,-43,-46,-49,-52,-55,-58,-61,-64,-67,-70,-73,-76,-79,-82,-85,-88,-91,-94,-103,-129],[4,8,3,0,-3,-6,-9,-12,-15,-18,-21,-24,-27,-30,-33,-36,-39,-42,-45,-48,-51,-54,-57,-60,-63,-66,-69,-72,-75,-78,-81,-84,-87,-92],[5,2,-1,-4,-7,-10,-13,-16,-19,-22,-25,-28,-31,-34,-37,-40,-43,-46,-49,-52,-55,-58,-61,-64,-67,-70,-73,-76,-79,-82,-85,-132],[6,-1,-4,-6,-9,-12,-15,-18,-21,-24,-27,-30,-39,-42,-46,-52,-55,-59,-63,-68,-71,-74,-77,-80,-83,-86],[7,-3,-7,-10,-13,-14,-20,-23,-27,-28,-32,-33,-39,-48,-52,-56,-62,-66,-70,-73,-76,-80,-84,-87],[8,-5,-6,-9,-13,-17,-21,-24,-27,-32,-36,-41,-45,-48,-50,-53,-55,-59,-64,-68,-72,-76,-80,-84],[9,-6,-9,-25,-45,-46,-55,-56,-70,-75,-82,-85],[10,-10,-15,-22,-32,-54,-57,-71,-81,-86],[11,-7,-9,-30,-46,-79,-87],[12,-12,-35,-52,-54,-65,-71],[13,-35,-56],[14,-13],[17,-46],[21,-18],[22,-10],[30,-8],[36,-67]];
const tpsaRows=[[22,29],[20,241],[19,35],[16,0,25,60,85,100],[14,0,15,32,50,70,95,130],[12,0,16,34,52,72,92,112,138],[10,0,12,30,48,66,84,104,122,155,240],[8,0,16,34,52,70,88,108,126,146,166,190],[6,0,12,28,46,64,82,100,120,138,158,176,198,216],[4,0,16,34,50,68,86,104,124,142,160,180,200,222],[2,0,12,30,48,66,84,102,122,140,158,178,196,214,240,262,280,312,320,401],[0,0,16,34,52,70,88,106,126,144,162,182,200,226,258,282,300],[-2,0,12,28,46,64,82,100,118,138,156,176,192,214,232,268,290,440],[-5,0,16,34,52,70,88,106,124,142,160,178,196,222,246,270,300,335,356,370,416,438,455,520,553,610,678,701,1017],[-8,0,12,30,48,66,84,102,120,138,156,176,200,224,252,284,330,390,421,475,475,502,533,632,672,696,966],[-10,0,16,34,52,70,88,106,124,142,160,180,196,240,278,305,350,405,559,623],[-13,0,12,28,46,64,82,100,118,136,158,176,206,230,260,282,318,374,397,545,724,794],[-15,0,16,34,52,70,88,106,124,142,160,186,212,252,300,336,361,369,576,742],[-18,0,12,30,48,66,84,102,120,138,156,172,190,226,270,302,404,553],[-21,0,16,34,52,70,88,106,124,142,160,178,210,244,288,310],[-24,0,12,28,46,64,82,100,118,136,156,196,236,262,320,376],[-27,0,16,34,52,70,88,106,124,142,160,184,216,250,288,383,391,416,488],[-30,0,12,30,48,66,84,102,120,138,156,174,224,250,300,345,325,410],[-33,0,16,34,52,70,88,106,124,142,160,204,232,282,343],[-36,0,12,28,46,64,82,100,118,136,154,172,216,256,310],[-39,0,16,34,52,70,88,106,124,142,160,200,260],[-42,0,12,30,48,66,84,102,120,138,156,196,255,288,347],[-45,0,16,34,52,70,88,106,124,142,160,180,255],[-48,0,12,28,46,64,82,100,118,136,154,190,255,279,343],[-51,0,16,34,52,70,88,106,124,142,160,178,206,232,483],[-54,0,12,30,48,66,84,102,120,138,156,174,190,240,396],[-57,0,16,34,52,70,88,106,124,150,166,184,200,250],[-60,0,12,28,46,64,82,100,118,136,172,192,220,313],[-63,0,16,34,52,70,88,106,124,142,182,222,407],[-66,0,12,30,48,66,84,102,120,140,170,247,279,379],[-69,0,16,34,52,70,88,106,124,160,186,307],[-72,0,12,28,46,64,82,100,118,136,150,170,195,279,332],[-75,0,16,34,52,70,88,106,124,142,160,180,200,224,257,345,524],[-78,0,12,30,48,66,84,110,130,150,176,194,279,343],[-81,0,16,34,52,70,88,106,124,142,160,176,200],[-84,0,12,28,46,64,82,100,122,140,158,453],[-87,0,16,34,52,70,88,120,136,150,194,541],[-90,0,12,28,46,62,82,126,141,177,205,481],[-92,0,18,36,54,72,105,124],[-96,0,8,25,42,56],[-100,0,10,27],[-104,0,9,108],[-110,18],[-115,0,13],[-120,18,81],[-130,8],[-132,0]];
const labuteRows=[[21,70],[20,165],[17,5,22,40,60],[16,205],[14,5,22,45,70,95,125],[11,6,30,55,82,112,140],[8,8,35,62,90,120,152,210],[5,5,28,58,86,115,145,178,210,244],[2,10,38,70,102,136,165,198,232,265],[-1,5,30,62,95,128,160,194,228,265,298,330,505],[-4,8,40,72,105,140,174,208,242,276,310,346,382,418,455,492,520,555,595],[-7,5,35,68,102,136,170,204,238,272,308,344,372,396,430,466,488,530,568,602,640,670],[-10,10,42,74,110,145,178,210,246,280,316,352,384,412,450,562],[-13,6,38,70,102,138,174,206,240,275,308,340,368,424],[-16,5,32,68,100,136,170,202,238,270,306,335,365],[-19,8,40,72,105,140,172,206,240,272,302,326,418,475],[-22,5,35,66,100,134,168,200,234,268,294],[-25,10,42,74,108,140,176,208,244,276,306,340,552],[-28,6,38,70,102,138,172,204,238,268,302,330,430],[-31,10,44,76,110,142,178,210,244,272,314,360,455,600],[-34,8,40,72,105,140,174,206,240,274,306,420,470],[-37,6,38,70,102,138,170,202,236,264,298,396],[-41,10,42,74,110,145,178,210,248,285,314,410,603],[-45,5,35,68,102,136,170,202,236,264,322,350,498],[-48,8,40,72,105,140,174,208,244,276,364,385,412,660],[-52,6,38,70,102,136,170,204,238,268,302,603],[-55,10,42,74,108,142,176,210,244,272,310,510,538,660,1028,1083],[-59,5,35,68,102,136,172,204,238,290,326,428],[-62,8,40,72,105,140,174,206,264,298,332,442],[-66,12,44,76,110,142,178,232,264,498,830,990],[-68,6,38,70,102,136,170,202,1243,2390],[-71,5,35,68,102,136,172,206,244,276,310,356,396,488,520,568,880],[-74,16,48,80,114,146,180,212,248,280,318,352,384,406,436],[-78,32,64,96,132,164,198,232,266,302,336,368,392,500,600],[-82,40,72,105,138,172,206,240,272,306,332],[-86,54,88,120,154,186,220,252,286,320,462,673],[-90,66,98,132,164,198,230,264,314,344,452],[-92,74,112,145,178,214,248,404,580,986],[-96,135,164,195,232,276,418],[-100,25,85,158,182,394],[-102,110,170,196,358],[-105,165,197],[-110,162],[-115,174,207],[-120,192,260],[-130,215],[-132,272]];

const rowsToPoints=rows=>rows.flatMap(([y,...xs])=>xs.map(x=>[x,y/10]));
const colsToPoints=cols=>cols.flatMap(([x,...ys])=>ys.map(y=>[x,y/10]));
const panelPoints=[rowsToPoints(molWtRows),rowsToPoints(molLogPRows),rowsToPoints(molMRRows),rowsToPoints(heavyRows),colsToPoints(hAcceptorCols),colsToPoints(hDonorCols),colsToPoints(heteroCols),rowsToPoints(rotatableRows),rowsToPoints(valenceRows),colsToPoints(aromaticCols),colsToPoints(saturatedCols),colsToPoints(aliphaticCols),colsToPoints(ringCountCols),rowsToPoints(tpsaRows),rowsToPoints(labuteRows)];

// Repeat the readings inside a panel's crowded core so the pile-up shows in the colour
const withOverlap=(pts,[lo,hi],n)=>pts.flatMap(p=>(p[0]>=lo&&p[0]<=hi&&p[1]>=-9.6&&p[1]<=1.3)?Array(n).fill(p):[p]);

// Figure layout
const axW=579,axH=334.6,colX=[124,875,1627],rowY=[46.7,480.2,913.7,1347.2,1780.7];
const svg=d3.select("#fig");
const pt=150/72;
const color=d3.interpolateRdBu;
const tickFont=21.8,labelFont=26.2,titleFont=25;

names.forEach((name,i)=>{
  const r=absR[i];
  const g=svg.append("g").attr("transform",`translate(${colX[i%3]},${rowY[Math.floor(i/3)]})`);
  const x=d3.scaleLinear().domain(xLimits[i]).range([0,axW]);
  const y=d3.scaleLinear().domain([-13.98,2.93]).range([axH,0]);

  // Marker area grows with the correlation strength
  const radius=Math.sqrt(8+42*r)*pt/2;
  g.append("g").selectAll("circle").data(withOverlap(panelPoints[i],coreSpan[i],coreOverlap[i])).join("circle")
    .attr("cx",d=>x(d[0])).attr("cy",d=>y(d[1])).attr("r",radius)
    .attr("fill",color(r)).attr("fill-opacity",.47)
    .attr("stroke","#fff").attr("stroke-opacity",.35).attr("stroke-width",.8);

  // Dashed grid, over the points
  const gx=g.append("g").call(d3.axisBottom(x).tickValues(xTicks[i]).tickSize(axH).tickFormat(""));
  const gy=g.append("g").call(d3.axisLeft(y).tickValues(yTicks).tickSize(-axW).tickFormat(""));
  [gx,gy].forEach(a=>{a.select(".domain").remove();a.selectAll("line").attr("stroke","#b0b0b0").attr("stroke-opacity",.55).attr("stroke-width",1.7).attr("stroke-dasharray","7.7 3.3");});

  // Inward ticks on all four sides
  const labels=xTickLabels[i];
  const bottom=g.append("g").attr("transform",`translate(0,${axH})`).call(d3.axisBottom(x).tickValues(xTicks[i]).tickSizeInner(-8.5).tickSizeOuter(0).tickPadding(6.5).tickFormat((d,k)=>labels[k]));
  const top=g.append("g").call(d3.axisTop(x).tickValues(xTicks[i]).tickSizeInner(-8.5).tickSizeOuter(0).tickFormat(""));
  const left=g.append("g").call(d3.axisLeft(y).tickValues(yTicks).tickSizeInner(-8.5).tickSizeOuter(0).tickPadding(8).tickFormat(d3.format(".1f")));
  const right=g.append("g").attr("transform",`translate(${axW},0)`).call(d3.axisRight(y).tickValues(yTicks).tickSizeInner(-8.5).tickSizeOuter(0).tickFormat(""));
  [bottom,top,left,right].forEach(a=>{a.select(".domain").remove();a.selectAll("line").attr("stroke","#000").attr("stroke-width",pt*2);a.selectAll("text").attr("font-size",tickFont).attr("font-family","DejaVu Sans").attr("fill","#000");});

  g.append("rect").attr("width",axW).attr("height",axH).attr("fill","none").attr("stroke","#000").attr("stroke-width",pt*2);

  const title=g.append("text").attr("x",axW/2).attr("y",-12.5).attr("text-anchor","middle").attr("font-size",titleFont);
  title.append("tspan").text("|");
  title.append("tspan").attr("font-style","italic").text("r");
  title.append("tspan").text(`| = ${r.toFixed(2)}`);

  g.append("text").attr("x",axW/2).attr("y",axH+55).attr("text-anchor","middle").attr("font-size",labelFont).text(name);

  const yl=g.append("text").attr("transform",`translate(-91,${axH/2}) rotate(-90)`).attr("text-anchor","middle").attr("font-size",labelFont);
  yl.append("tspan").text("Solubility (log ");
  yl.append("tspan").attr("font-style","italic").text("S");
  yl.append("tspan").text(")");
});

// Shared colour bar for |r|
const barX=2285.5,barW=54.5,barTop=128,barBottom=2006;
const cScale=d3.scaleLinear().domain([0,1]).range([barBottom,barTop]);
const levels=d3.range(256);
const bar=svg.append("g");
bar.selectAll("rect").data(levels).join("rect")
  .attr("x",barX).attr("width",barW)
  .attr("y",d=>cScale((d+1)/256)).attr("height",d=>cScale(d/256)-cScale((d+1)/256)+.6)
  .attr("fill",d=>color((d+.5)/256));
bar.append("rect").attr("x",barX).attr("y",barTop).attr("width",barW).attr("height",barBottom-barTop).attr("fill","none").attr("stroke","#000").attr("stroke-width",1.2);
const cAxis=svg.append("g").attr("transform",`translate(${barX+barW},0)`).call(d3.axisRight(cScale).tickValues([0,.2,.4,.6,.8,1]).tickSizeInner(7).tickSizeOuter(0).tickPadding(9).tickFormat(d3.format(".1f")));
cAxis.select(".domain").remove();
cAxis.selectAll("line").attr("stroke","#000").attr("stroke-width",1.6);
cAxis.selectAll("text").attr("font-size",35).attr("dy",".38em").attr("font-family","DejaVu Sans").attr("fill","#000");
</script></body></html>
